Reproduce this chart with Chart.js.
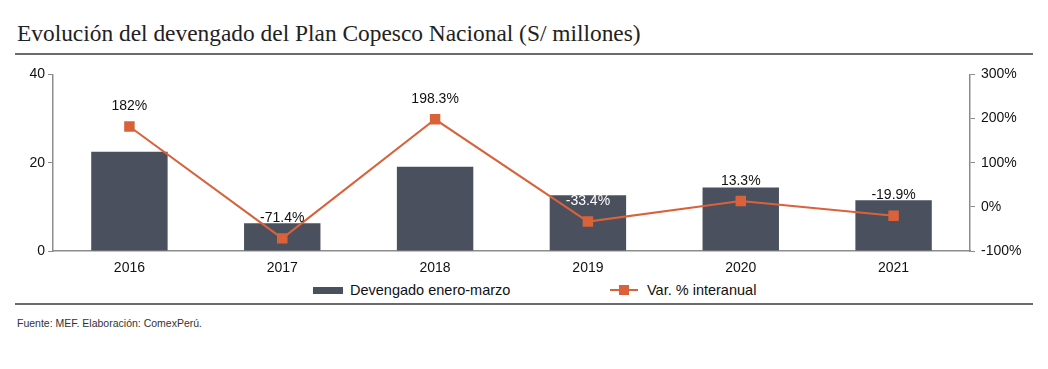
<!DOCTYPE html>
<html lang="es">
<head>
  <meta charset="UTF-8">
  <title>Evolución del devengado del Plan Copesco Nacional</title>
  <script src="https://cdn.jsdelivr.net/npm/chart.js"></script>
  <style>
    body {
      margin: 0;
      width: 1048px;
      height: 369px;
      background: #fff;
      position: relative;
      font-family: "Liberation Sans", Arial, sans-serif;
      overflow: hidden;
    }
    .title {
      position: absolute;
      left: 17px;
      top: 20px;
      font-family: "Liberation Serif", "DejaVu Serif", serif;
      font-size: 23.4px;
      color: #222;
    }
    .rule {
      position: absolute;
      left: 15px;
      width: 1018px;
      height: 2px;
      background: #6b6b6b;
    }
    .chart-box {
      position: absolute;
      left: 0;
      top: 60px;
      width: 1048px;
      height: 215px;
    }
    .legend {
      position: absolute;
      top: 282px;
      font-size: 14.5px;
      color: #111;
      display: flex;
      align-items: center;
    }
    .sw-bar {
      display: inline-block;
      width: 30px;
      height: 7px;
      background: #4a505e;
      margin-right: 7px;
    }
    .sw-line {
      display: inline-block;
      position: relative;
      width: 28px;
      height: 10px;
      margin-right: 9px;
    }
    .sw-line::before {
      content: "";
      position: absolute;
      left: 0; right: 0; top: 4px;
      height: 2px;
      background: #d9623b;
    }
    .sw-line::after {
      content: "";
      position: absolute;
      left: 9px; top: 0;
      width: 10px; height: 10px;
      background: #d9623b;
    }
    .footer {
      position: absolute;
      left: 17px;
      top: 317px;
      font-size: 10.5px;
      color: #333;
    }
  </style>
</head>
<body>
  <div class="title">Evolución del devengado del Plan Copesco Nacional (S/ millones)</div>
  <div class="rule" style="top:53px"></div>
  <div class="chart-box"><canvas id="chart" width="1048" height="215"></canvas></div>
  <div class="legend" style="left:313px"><span class="sw-bar"></span>Devengado enero-marzo</div>
  <div class="legend" style="left:610px"><span class="sw-line"></span>Var. % interanual</div>
  <div class="rule" style="top:303px"></div>
  <div class="footer">Fuente: MEF. Elaboración: ComexPerú.</div>

  <script>
    const years = ['2016', '2017', '2018', '2019', '2020', '2021'];
    const devengado = [22.5, 6.3, 19.1, 12.6, 14.4, 11.5];
    const variacion = [182, -71.4, 198.3, -33.4, 13.3, -19.9];
    const varLabels = ['182%', '-71.4%', '198.3%', '-33.4%', '13.3%', '-19.9%'];
    const labelColors = ['#111', '#111', '#111', '#fff', '#111', '#111'];

    const axisGrey = '#8c8c8c';
    const fontFam = '"Liberation Sans", Arial, sans-serif';

    // draws the % labels above the line markers
    const lineLabels = {
      id: 'lineLabels',
      afterDatasetsDraw(chart) {
        const ctx = chart.ctx;
        const meta = chart.getDatasetMeta(1);
        ctx.save();
        ctx.font = '14px ' + fontFam;
        ctx.textAlign = 'center';
        ctx.textBaseline = 'bottom';
        meta.data.forEach((pt, i) => {
          ctx.fillStyle = labelColors[i];
          ctx.fillText(varLabels[i], pt.x, pt.y - 13);
        });
        ctx.restore();
      }
    };

    new Chart(document.getElementById('chart'), {
      data: {
        labels: years,
        datasets: [
          {
            type: 'bar',
            label: 'Devengado enero-marzo',
            data: devengado,
            backgroundColor: '#4a505e',
            barPercentage: 0.5,
            categoryPercentage: 1,
            yAxisID: 'y',
            order: 2
          },
          {
            type: 'line',
            label: 'Var. % interanual',
            data: variacion,
            borderColor: '#d9623b',
            backgroundColor: '#d9623b',
            borderWidth: 2,
            pointStyle: 'rect',
            pointRadius: 6,
            pointHoverRadius: 6,
            tension: 0,
            yAxisID: 'y1',
            order: 1
          }
        ]
      },
      options: {
        responsive: false,
        animation: false,
        layout: { padding: { top: 13, left: 0, right: 0, bottom: 0 } },
        plugins: {
          legend: { display: false },
          tooltip: { enabled: false }
        },
        scales: {
          x: {
            grid: { display: false, drawTicks: false },
            border: { color: axisGrey, width: 1.5 },
            ticks: {
              color: '#111',
              font: { size: 14, family: fontFam },
              padding: 9
            },
            afterFit(scale) { scale.height = 24; }
          },
          y: {
            position: 'left',
            min: 0,
            max: 40,
            grid: { drawOnChartArea: false, tickLength: 5, color: axisGrey },
            border: { color: axisGrey, width: 1.5 },
            ticks: {
              stepSize: 20,
              color: '#111',
              font: { size: 14, family: fontFam },
              padding: 3
            },
            afterFit(scale) { scale.width = 53; }
          },
          y1: {
            position: 'right',
            min: -100,
            max: 300,
            grid: { drawOnChartArea: false, tickLength: 5, color: axisGrey },
            border: { color: axisGrey, width: 1.5 },
            ticks: {
              stepSize: 100,
              color: '#111',
              font: { size: 14, family: fontFam },
              padding: 6,
              callback: v => v + '%'
            },
            afterFit(scale) { scale.width = 78; }
          }
        }
      },
      plugins: [lineLabels]
    });
  </script>
</body>
</html>
